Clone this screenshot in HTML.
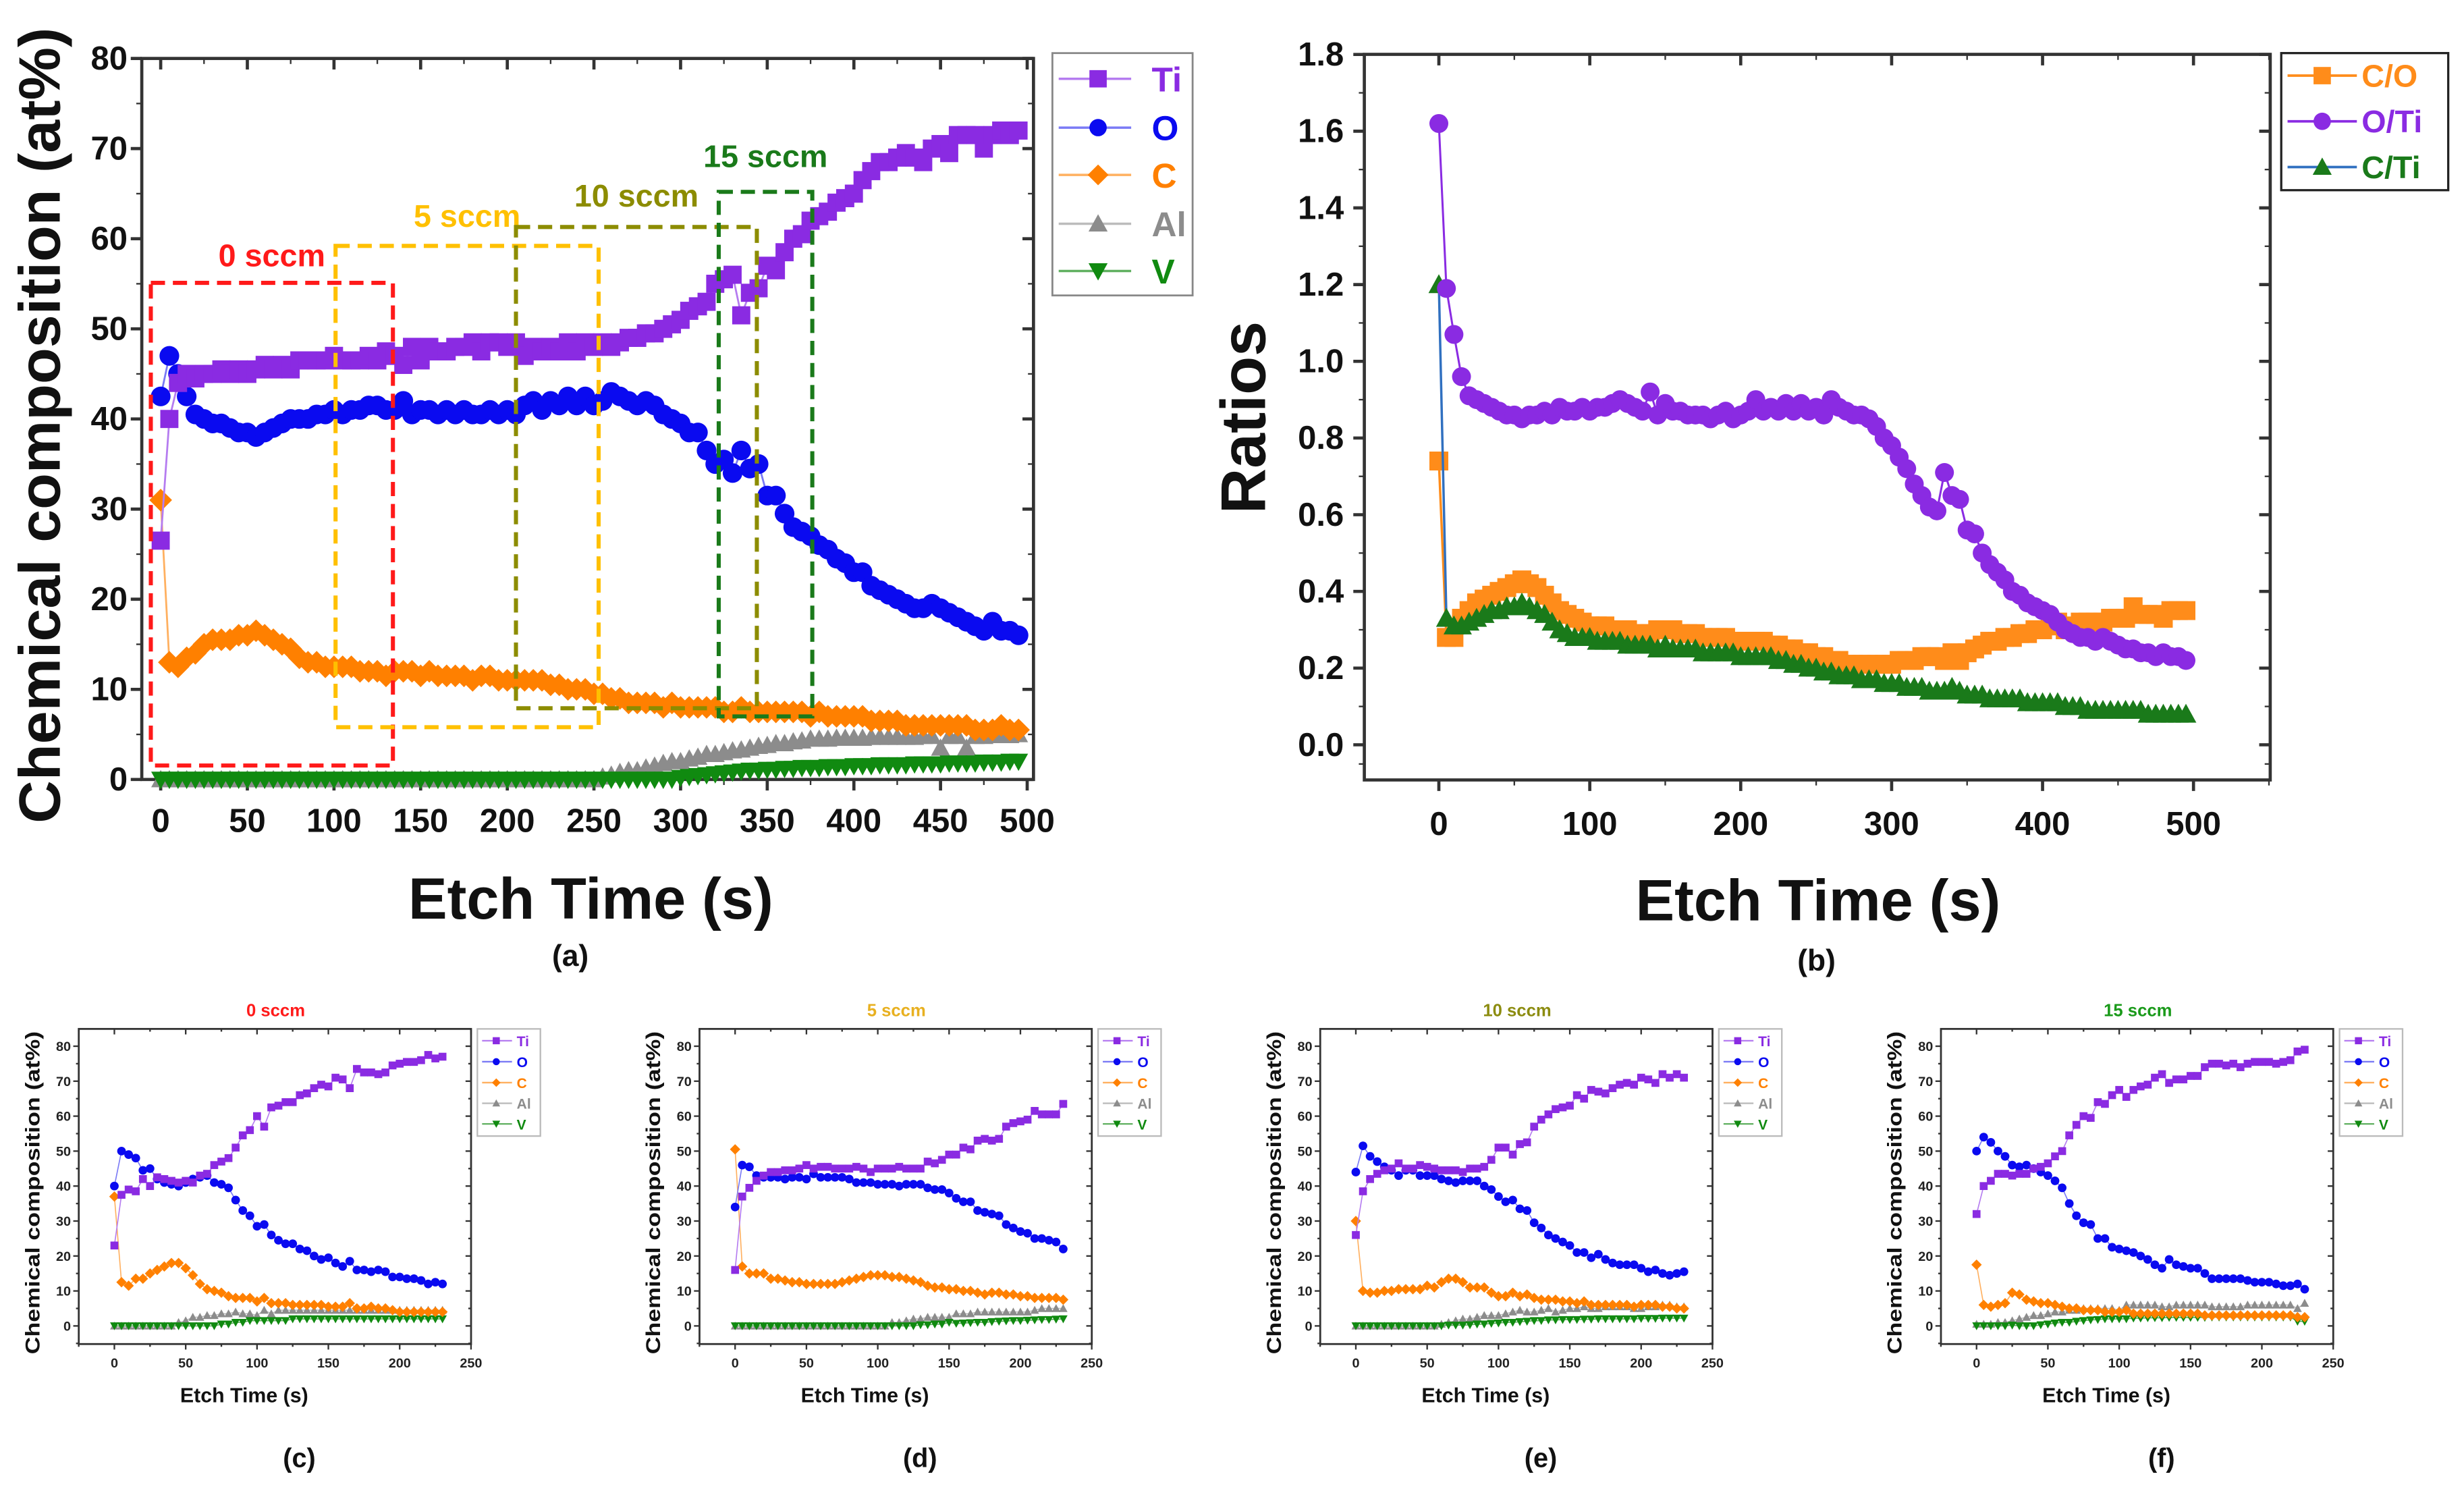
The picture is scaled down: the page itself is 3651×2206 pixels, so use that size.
<!DOCTYPE html>
<html><head><meta charset="utf-8"><style>
html,body{margin:0;padding:0;background:#fff;}
svg{display:block;font-family:"Liberation Sans",Arial,sans-serif;font-weight:bold;}
</style></head><body>
<svg id="fig" xmlns="http://www.w3.org/2000/svg" width="3651" height="2206" viewBox="0 0 1564 945" preserveAspectRatio="none"></svg>
<script>
// ---------- Panel (a) data ----------
const A_t=[0,5,10,15,20,25,30,35,40,45,50,55,60,65,70,75,80,85,90,95,100,105,110,115,120,125,130,135,140,145,150,155,160,165,170,175,180,185,190,195,200,205,210,215,220,225,230,235,240,245,250,255,260,265,270,275,280,285,290,295,300,305,310,315,320,325,330,335,340,345,350,355,360,365,370,375,380,385,390,395,400,405,410,415,420,425,430,435,440,445,450,455,460,465,470,475,480,485,490,495];
const A_Ti=[26.5,40,44,45,44.5,45,45,45.5,45,45.5,
45,45.5,46,45.5,46,45.5,46.5,46.5,46.5,46.5,
47,46.5,46.5,46.5,47,46.5,47.5,47,46,48,
46.5,48,47.5,47.5,48,48,48.5,47.5,48.5,48.5,
48,48.5,47,48,47.5,48,47.5,48.5,47.5,48.5,
48,48.5,48,48.5,49,49,49.5,49.5,50,50.5,
51,52,52.5,53,55,55.5,56,51.5,54,54.5,
57,56.5,58.5,60,60.5,62,62.5,63,64,64.5,
65,66.5,67.5,68.5,68.5,69,69.5,69,68.5,70,
70.5,69.5,71.5,71.5,71.5,70,71.5,72,71.5,72];
const A_O=[42.5,47,45,42.5,40.5,40,39.5,39.5,39,38.5,
38.5,38,38.5,39,39.5,40,40,40,40.5,40.5,
41,40.5,41,41,41.5,41.5,41,41,42,40.5,
41,41,40.5,41,40.5,41,40.5,40.5,41,40.5,
41,40.5,41.5,42,41,42,41.5,42.5,41.5,42.5,
41.5,42,43,42.5,42,41.5,42,41.5,40.5,40,
39.5,38.5,38.5,36.5,35,35.5,34,36.5,34.5,35,
31.5,31.5,29.5,28,27.5,27,26,25.5,24.5,24,
23,23,21.5,21,20.5,20,19.5,19,19,19.5,
19,18.5,18,17.5,17,16.5,17.5,16.5,16.5,16];
const A_C=[31,13,12.5,13.5,14,15,15.5,15.5,15.5,16,
16,16.5,16,15.5,15,14.5,13.5,13,13,12.5,
12.5,12.5,12.5,12,12,12,11.5,12,12,12,
11.5,12,11.5,11.5,11.5,11.5,11,11.5,11.5,11,
11,11,11,11,11,10.5,10.5,10,10,10,
9.5,9.5,9,9,8.5,8.5,8.5,8.5,8,8.5,
8,8,8,8,8,7.5,7.5,8,7.5,7.5,
7.5,7.5,7.5,7.5,7.5,7,7.5,7,7,7,
7,7,6.5,6.5,6.5,6.5,6,6,6,6,
6,6,6,6,5.5,5.5,5.5,6,5.5,5.5];
const A_Al=[0,0,0,0,0,0,0,0,0,0,
0,0,0,0,0,0,0,0,0,0,
0,0,0,0,0,0,0,0,0,0,
0,0,0,0,0,0,0,0,0,0,
0,0,0,0,0,0,0,0,0,0,
0,0.3,0.5,0.8,1,1,1.3,1.5,1.8,2,
2,2.3,2.5,2.8,2.8,3,3.2,3.3,3.5,3.7,
3.8,4,4,4.2,4.3,4.5,4.5,4.5,4.6,4.6,
4.6,4.6,4.7,4.7,4.7,4.7,4.7,4.7,4.8,4.8,
3.5,4.8,4.8,3.5,4.8,4.8,4.9,4.9,4.9,5];
const A_V=[0,0,0,0,0,0,0,0,0,0,
0,0,0,0,0,0,0,0,0,0,
0,0,0,0,0,0,0,0,0,0,
0,0,0,0,0,0,0,0,0,0,
0,0,0,0,0,0,0,0,0,0,
0,0,0,0,0,0,0,0,0,0,
0.2,0.3,0.4,0.5,0.6,0.7,0.8,0.9,1,1,
1.1,1.1,1.2,1.2,1.3,1.3,1.3,1.4,1.4,1.4,
1.5,1.5,1.5,1.6,1.6,1.6,1.6,1.7,1.7,1.7,
1.7,1.8,1.8,1.8,1.8,1.9,1.9,1.9,2,2];
const A_xticks=[0,50,100,150,200,250,300,350,400,450,500];
const A_yticks=[0,10,20,30,40,50,60,70,80];
const A_boxLabels=["0 sccm","5 sccm","10 sccm","15 sccm"];
const A_boxT0=[-5.7,100.9,205,322];
const A_boxT1=[134,252.7,344,376];
const A_boxY0=[55.1,59.2,61.3,65.2];
const A_boxY1=[1.55,5.8,7.9,7.0];

// ---------- Panel (b) data ----------
const B_t=A_t.slice();
const B_OTi=[1.62,1.19,1.07,0.96,0.91,0.9,0.89,0.88,0.87,0.86,
0.86,0.85,0.86,0.86,0.87,0.86,0.88,0.87,0.87,0.88,
0.87,0.88,0.88,0.89,0.9,0.89,0.88,0.87,0.92,0.86,
0.89,0.87,0.87,0.86,0.86,0.86,0.85,0.86,0.87,0.85,
0.86,0.87,0.9,0.87,0.88,0.87,0.89,0.87,0.89,0.87,
0.88,0.86,0.9,0.88,0.87,0.86,0.86,0.85,0.83,0.8,
0.78,0.75,0.72,0.68,0.65,0.62,0.61,0.71,0.65,0.64,
0.56,0.55,0.5,0.47,0.45,0.43,0.4,0.39,0.37,0.36,
0.35,0.34,0.32,0.3,0.29,0.28,0.28,0.27,0.28,0.27,
0.26,0.25,0.25,0.24,0.24,0.23,0.24,0.23,0.23,0.22];
const B_CO=[0.74,0.28,0.28,0.33,0.35,0.37,0.38,0.39,0.4,0.41,
0.42,0.43,0.42,0.41,0.39,0.37,0.35,0.34,0.33,0.32,
0.31,0.31,0.31,0.3,0.3,0.3,0.29,0.29,0.29,0.3,
0.3,0.3,0.29,0.29,0.29,0.28,0.28,0.28,0.28,0.27,
0.27,0.27,0.27,0.27,0.26,0.26,0.25,0.25,0.24,0.24,
0.23,0.23,0.22,0.22,0.21,0.21,0.21,0.21,0.21,0.21,
0.21,0.22,0.22,0.22,0.23,0.23,0.23,0.22,0.24,0.22,
0.24,0.25,0.26,0.27,0.27,0.28,0.28,0.29,0.29,0.3,
0.3,0.31,0.32,0.3,0.31,0.32,0.32,0.32,0.32,0.33,
0.33,0.33,0.36,0.34,0.34,0.34,0.33,0.35,0.35,0.35];
const B_CTi=[1.2,0.33,0.31,0.31,0.32,0.33,0.34,0.35,0.35,0.36,
0.36,0.37,0.36,0.35,0.34,0.32,0.3,0.29,0.28,0.28,
0.28,0.27,0.27,0.27,0.27,0.26,0.26,0.26,0.26,0.25,
0.26,0.25,0.25,0.25,0.25,0.24,0.24,0.24,0.24,0.24,
0.23,0.23,0.23,0.23,0.23,0.22,0.22,0.21,0.21,0.2,
0.2,0.19,0.19,0.18,0.18,0.18,0.17,0.17,0.17,0.16,
0.16,0.16,0.15,0.15,0.15,0.14,0.14,0.14,0.15,0.14,
0.13,0.13,0.13,0.12,0.12,0.12,0.12,0.12,0.11,0.11,
0.11,0.11,0.11,0.1,0.1,0.1,0.09,0.09,0.09,0.09,
0.09,0.09,0.09,0.09,0.08,0.08,0.08,0.08,0.08,0.08];
const B_xticks=[0,100,200,300,400,500];
const B_yticks=[0,0.2,0.4,0.6,0.8,1.0,1.2,1.4,1.6,1.8];

// ---------- Panels (c)-(f) data ----------
const S_t=[0,5,10,15,20,25,30,35,40,45,50,55,60,65,70,75,80,85,90,95,100,105,110,115,120,125,130,135,140,145,150,155,160,165,170,175,180,185,190,195,200,205,210,215,220,225,230];
const S_xticks=[0,50,100,150,200,250];
const S_yticks=[0,10,20,30,40,50,60,70,80];
const C_Ti=[23,37.5,39,38.5,42,40,42.5,42,41.5,41,41.5,41,43,43.5,46,47,48,51,54.5,56,60,57,62.5,63,64,64,66,66.5,68,69,68.5,71,70.5,68,73.5,72.5,72.5,72,72.5,74.5,75,75.5,75.5,76,77.5,76.5,77];
const C_O=[40,50,49,48,44.5,45,42,41,40.5,40,41,42,42.5,43,41,40.5,39.5,36,33,31.5,28.5,29,26,24.5,23.5,23.5,22,21.5,20,19,19.5,18,17,18.5,16,16,15.5,16,15.5,14,14,13.5,13.5,13,12,12.5,12];
const C_C=[37,12.5,11.5,13.5,13.5,15,16,17,18,18,16.5,14.5,12,10.5,10,9.5,8.5,8,8,8,7,8,6.5,6.5,6.5,6,6,6,6,6,5.5,5.5,5.5,6.5,5,5,5.5,5,5,4.5,4,4,4,4,4,4,4];
const C_Al=[0,0,0,0,0,0,0,0,0,1,1.5,2.5,2.5,3,3,3.5,3.5,4,3.5,3.5,3,4.5,3.5,4.5,4.5,4.5,4.5,4.5,4.5,4.5,4.5,4.5,4.5,4.5,4.5,4.5,4.5,4.5,4.5,4.5,4.5,4.5,4.5,4.5,4.5,4.5,4.5];
const C_V=[0,0,0,0,0,0,0,0,0,0,0,0,0,0,0,0.5,0.5,1,1,1.5,1.5,1.5,1.5,1.5,1.5,2,2,2,2,2,2,2,2,2,2,2,2,2,2,2,2,2,2,2,2,2,2];
const D_Ti=[16,37,39.5,41.5,43,44,44,44.5,44.5,45,46,45,45.5,45.5,45,45,45,45.5,45,44,45,45,45,45.5,45,45,45,47,46.5,47.5,49,49,51,50.5,53,53.5,53,53.5,57,58,58.5,59,61.5,60.5,60.5,60.5,63.5];
const D_O=[34,46,45.5,43,42.5,42.5,42.5,42,42.5,42.5,42,43.5,42.5,42.5,42.5,42.5,42,41,41,41,40.5,40.5,40.5,40,40.5,40.5,40.5,39.5,39,39,38,36.5,35.5,35.5,33,32.5,32,31.5,29,28,27,26.5,25,25,24.5,24,22];
const D_C=[50.5,17,15,15,15,13.5,13.5,13,12.5,12.5,12,12,12,12,12,12.5,13,13.5,14,14.5,14.5,14.5,14,14,13.5,13,12.5,11.5,11,11,10.5,10.5,10,10,9.5,9,9.5,9.5,9,9,8.5,8.5,8,8,8,8,7.5];
const D_Al=[0,0,0,0,0,0,0,0,0,0,0,0,0,0,0,0,0,0,0,0,0,0,1,1,1.5,2,2,2.5,2.5,2.5,2.5,3.5,3.5,3.5,4,4,4,4,4,4,4,4,4.5,5,5,5,5];
const D_V=[0,0,0,0,0,0,0,0,0,0,0,0,0,0,0,0,0,0,0,0,0,0,0,0,0,0,0.3,0.3,0.5,0.5,1,0.7,0.8,0.9,1,1,1.2,1.3,1.4,1.5,1.5,1.6,1.7,1.8,1.8,1.9,2];
const E_Ti=[26,38.5,42,43.5,44.5,45,46.5,45,45,46,45.5,45,44.5,44.5,44.5,44,45,45,45.5,47.5,51,51,49,52,52.5,57,59,60.5,62,62.5,63,66,65,67.5,67,66.5,68,69,69.5,69,71,70.5,69.5,72,71,72,71];
const E_O=[44,51.5,48.5,47,45.5,44.5,43,44.5,44.5,43,43,43,42,41.5,41,41.5,41.5,41.5,40,39,37,35.5,36,33.5,33,29.5,28,26,25,24,23,21,21,19.5,20.5,19,18,17.5,17.5,17.5,16.5,15.5,16,15,14.5,15,15.5];
const E_C=[30,10,9.5,9.5,10,10,10.5,10.5,10.5,10.5,11.5,11,12.5,13.5,13.5,12.5,11,11,11,9.5,8.5,8.5,9.5,8.5,9,8,7.5,7.5,7.5,7,7,6.5,7,6,6,6,6,6,6,5.5,6,6,6,5.5,5.5,5,5];
const E_Al=[0,0,0,0,0,0,0,0,0,0,0,0,0.5,1,1.5,2,2,2.5,3,3,3,3.5,4,4.5,4,4,4.5,5,4,4.5,5,5,5.5,5,5,5.5,5.5,5.5,5.5,5,5,5.5,5.5,6,6,5.5,5.5];
const E_V=[0,0,0,0,0,0,0,0,0,0,0,0,0,0.2,0.2,0.2,0.3,0.5,0.5,0.7,0.8,1,1,1.2,1.3,1.5,1.5,1.7,1.7,1.8,1.8,1.8,1.9,1.9,2,2,2,2,2,2,2.1,2.1,2.1,2.2,2.2,2.2,2.2];
const F_Ti=[32,40,41.5,43.5,43.5,43,43.5,43.5,45,45.5,46.5,48.5,50,54.5,57.5,60,59.5,64,63.5,66,67.5,65.5,67.5,68.5,69,71,72,69.5,70.5,70.5,71.5,71.5,74,75,75,74.5,75,74,75,75.5,75.5,75.5,75,75.5,76,78.5,79];
const F_O=[50,54,52.5,50,48.5,46,45.5,46,45,44,43,41.5,39.5,35,31.5,29.5,29,25,25,22.5,22,21.5,21,20,19,17.5,16.5,19,17.5,17,16.5,16.5,15,13.5,13.5,13.5,13.5,13.5,13,12.5,12.5,12.5,12,11.5,11.5,12,10.5];
const F_C=[17.5,6,5.5,6,6.5,9.5,9,7.5,7,6.5,6.5,6,5.5,5,5,4.5,4.5,4.5,4,4,4,4.5,3.5,3.5,3.5,3.5,3.5,3.5,3.5,3.5,3.5,3.5,3,3,3,3,3,3,3,3,3,3,3,3,3,2.5,2.5];
const F_Al=[0.5,0.5,0.5,1,1,1.5,2,2.5,3,3,3.5,4,4,4.5,4.5,5,5,5,5,5,4.5,6,6,6,6,6,5.5,5.5,6,6,6,6,6,5.5,5.5,5.5,5.5,5.5,6,6,6,6,6,6,6,5,6.5];
const F_V=[0,0,0,0,0,0.2,0,0,0,0.3,0.5,0.8,1,1,1.3,1.5,1.7,1.8,2,2,2,2,2.2,2.2,2.3,2.3,2.3,2.4,2.4,2.4,2.4,2.4,2.4,2.5,2.5,2.5,2.5,2.5,2.5,2.5,2.5,2.5,2.5,2.5,2.5,1.3,1.3];

// ---------- drawing helpers ----------
const NS="http://www.w3.org/2000/svg";
const fig=document.getElementById('fig');
function el(tag,attrs,parent){const e=document.createElementNS(NS,tag);for(const k in attrs)e.setAttribute(k,attrs[k]);(parent||fig).appendChild(e);return e;}
function txt(s,attrs,parent){const e=el('text',attrs,parent);e.textContent=s;return e;}
const COL={Ti:'#8a2be2',O:'#0a0af0',C:'#ff8000',Al:'#8c8c8c',V:'#108a10'};
const LCOL={Ti:'#b57cf0',O:'#7a7af5',C:'#ffb060',Al:'#bcbcbc',V:'#60b060'};
function marker(g,shape,cx,cy,s,color){
  let m;
  if(shape==='sq') m=el('rect',{x:cx-s/2,y:cy-s/2,width:s,height:s,fill:color},g);
  else if(shape==='ci') m=el('circle',{cx:cx,cy:cy,r:s/2,fill:color},g);
  else if(shape==='di') m=el('polygon',{points:`${cx},${cy-s*0.6} ${cx+s*0.6},${cy} ${cx},${cy+s*0.6} ${cx-s*0.6},${cy}`,fill:color},g);
  else if(shape==='tu') m=el('polygon',{points:`${cx},${cy-s*0.55} ${cx+s*0.55},${cy+s*0.45} ${cx-s*0.55},${cy+s*0.45}`,fill:color},g);
  else m=el('polygon',{points:`${cx},${cy+s*0.55} ${cx+s*0.55},${cy-s*0.45} ${cx-s*0.55},${cy-s*0.45}`,fill:color},g);
  return m;
}
function frame(L,T,R,B,xs,ys,xt,yt,xminor,yminor,tlen,g){
  el('rect',{x:L,y:T,width:R-L,height:B-T,fill:'none',stroke:'#333',"stroke-width":tlen>4?2:1.2},g);
  xt.forEach(v=>{const x=xs(v);el('line',{x1:x,y1:B,x2:x,y2:B+tlen,stroke:'#333','stroke-width':tlen>4?2:1},g);el('line',{x1:x,y1:T,x2:x,y2:T+tlen,stroke:'#333','stroke-width':tlen>4?2:1},g);});
  xminor.forEach(v=>{const x=xs(v);el('line',{x1:x,y1:B,x2:x,y2:B+tlen/2,stroke:'#333','stroke-width':1},g);el('line',{x1:x,y1:T,x2:x,y2:T+tlen/2,stroke:'#333','stroke-width':1},g);});
  yt.forEach(v=>{const y=ys(v);el('line',{x1:L-tlen,y1:y,x2:L,y2:y,stroke:'#333','stroke-width':tlen>4?2:1},g);el('line',{x1:R-tlen,y1:y,x2:R,y2:y,stroke:'#333','stroke-width':tlen>4?2:1},g);});
  yminor.forEach(v=>{const y=ys(v);el('line',{x1:L-tlen/2,y1:y,x2:L,y2:y,stroke:'#333','stroke-width':1},g);el('line',{x1:R-tlen/2,y1:y,x2:R,y2:y,stroke:'#333','stroke-width':1},g);});
}
function series(g,name,t,vals,xs,ys,shape,size,col,lcol,lw){
  const pts=t.map((v,i)=>xs(v)+','+ys(vals[i])).join(' ');
  const line=el('polyline',{points:pts,fill:'none',stroke:lcol,'stroke-width':lw},g);
  
  
  t.forEach((v,i)=>{
    const m=marker(g,shape,xs(v),ys(vals[i]),size,col);
    
    
  });
}

// ---------- Panel (a) ----------
(function(){
  const g=el('g',{});
  
  
  const L=90,R=656,T=37.1,B=494.7;
  const xs=v=>102+v*1.1, ys=v=>B-(v/80)*(B-T);
  frame(L,T,R,B,xs,ys,A_xticks,A_yticks,[25,75,125,175,225,275,325,375,425,475],[5,15,25,35,45,55,65,75],7,g);
  A_xticks.forEach(v=>{const e=txt(String(v),{x:xs(v),y:528,'font-size':21,'text-anchor':'middle',fill:'#111'},g);});
  A_yticks.forEach(v=>{const e=txt(String(v),{x:L-9,y:ys(v)+7,'font-size':21,'text-anchor':'end',fill:'#111'},g);});
  const yl=txt('Chemical composition (at%)',{x:0,y:0,'font-size':37,'text-anchor':'middle',transform:'translate(38,270) rotate(-90)',fill:'#111',textLength:505,lengthAdjust:'spacingAndGlyphs'},g);
  
  
  const xl=txt('Etch Time (s)',{x:375,y:583,'font-size':37,'text-anchor':'middle',fill:'#111'},g);
  
  
  series(g,'al',A_t,A_Al,xs,ys,'tu',11,COL.Al,LCOL.Al,1);
  series(g,'v',A_t,A_V,xs,ys,'td',11,COL.V,LCOL.V,1);
  series(g,'c',A_t,A_C,xs,ys,'di',12,COL.C,LCOL.C,1.2);
  series(g,'o',A_t,A_O,xs,ys,'ci',12.5,COL.O,LCOL.O,1.2);
  series(g,'ti',A_t,A_Ti,xs,ys,'sq',11.5,COL.Ti,LCOL.Ti,1.2);
  const bcol=['#ff1a1a','#ffc000','#8c8c00','#1a7a1a'];
  const lblY=[162,137,124,99];
  A_boxLabels.forEach((s,i)=>{
    const x0=xs(A_boxT0[i]),x1=xs(A_boxT1[i]),y0=ys(A_boxY0[i]),y1=ys(A_boxY1[i]);
    const r=el('rect',{x:x0,y:y0,width:x1-x0,height:y1-y0,fill:'none',stroke:bcol[i],'stroke-width':2.6,'stroke-dasharray':'9,5'},g);
    
    
    const t=txt(s,{x:(x0+x1)/2,y:lblY[i]+7,'font-size':20,'text-anchor':'middle',fill:bcol[i]},g);
    
    
  });
  const lg=el('g',{},g);
  
  
  el('rect',{x:668,y:33.7,width:89,height:153.8,fill:'#fff',stroke:'#888','stroke-width':1.2},lg);
  const names=['Ti','O','C','Al','V'],shapes=['sq','ci','di','tu','td'],ry=[50,81,111,142,172];
  names.forEach((n,i)=>{
    const e=el('g',{},lg);
    
    
    el('line',{x1:672,y1:ry[i],x2:718,y2:ry[i],stroke:LCOL[n],'stroke-width':1.5},e);
    marker(e,shapes[i],697,ry[i],11,COL[n]);
    txt(n,{x:731,y:ry[i]+8,'font-size':22,fill:COL[n]},e);
  });
  const pl=txt('(a)',{x:362,y:613,'font-size':19,'text-anchor':'middle',fill:'#111'});
  
  
})();

// ---------- Panel (b) ----------
(function(){
  const g=el('g',{});
  
  
  const L=866,R=1441,T=34.5,B=495;
  const xs=v=>913.3+v*0.958, ys=v=>472.7-v*243.4;
  frame(L,T,R,B,xs,ys,B_xticks,B_yticks,[-50,50,150,250,350,450,550].filter(v=>xs(v)>=L&&xs(v)<=R),[0.1,0.3,0.5,0.7,0.9,1.1,1.3,1.5,1.7,-0.05].filter(v=>ys(v)<=B),7,g);
  B_xticks.forEach(v=>{const e=txt(String(v),{x:xs(v),y:530,'font-size':21,'text-anchor':'middle',fill:'#111'},g);});
  B_yticks.forEach(v=>{const e=txt(v.toFixed(1),{x:L-13,y:ys(v)+7,'font-size':21,'text-anchor':'end',fill:'#111'},g);});
  const yl=txt('Ratios',{x:0,y:0,'font-size':40,'text-anchor':'middle',transform:'translate(803,265) rotate(-90)',fill:'#111'},g);
  
  
  const xl=txt('Etch Time (s)',{x:1154,y:584,'font-size':37,'text-anchor':'middle',fill:'#111'},g);
  
  
  series(g,'c-o',B_t,B_CO,xs,ys,'sq',12,'#ff8c1a','#ff8c1a',1.5);
  series(g,'c-ti',B_t,B_CTi,xs,ys,'tu',12,'#1a7a1a','#3070c0',1.5);
  series(g,'o-ti',B_t,B_OTi,xs,ys,'ci',12,'#8a2be2','#8a2be2',1.3);
  const lg=el('g',{},g);
  
  
  el('rect',{x:1448,y:33.7,width:106,height:87,fill:'#fff',stroke:'#222','stroke-width':1.4},lg);
  const names=['C/O','O/Ti','C/Ti'],cols=['#ff8c1a','#8a2be2','#1a7a1a'],lc=['#ff8c1a','#8a2be2','#3070c0'],shapes=['sq','ci','tu'],ry=[48,77,106];
  names.forEach((n,i)=>{
    const e=el('g',{},lg);
    
    
    el('line',{x1:1452,y1:ry[i],x2:1496,y2:ry[i],stroke:lc[i],'stroke-width':1.6},e);
    marker(e,shapes[i],1474,ry[i],11,cols[i]);
    txt(n,{x:1499,y:ry[i]+7,'font-size':20,fill:cols[i]},e);
  });
  const pl=txt('(b)',{x:1153,y:616,'font-size':19,'text-anchor':'middle',fill:'#111'});
  
  
})();

// ---------- Panels (c)-(f) ----------
const SMALL=[
  {id:'c',left:50,title:'0 sccm',tc:'#ff1a1a',Ti:C_Ti,O:C_O,C:C_C,Al:C_Al,V:C_V},
  {id:'d',left:444,title:'5 sccm',tc:'#e8b020',Ti:D_Ti,O:D_O,C:D_C,Al:D_Al,V:D_V},
  {id:'e',left:838,title:'10 sccm',tc:'#8c8c10',Ti:E_Ti,O:E_O,C:E_C,Al:E_Al,V:E_V},
  {id:'f',left:1232,title:'15 sccm',tc:'#1a9a1a',Ti:F_Ti,O:F_O,C:F_C,Al:F_Al,V:F_V}
];
SMALL.forEach(p=>{
  const g=el('g',{});
  
  
  const L=p.left,R=p.left+249,T=653,B=853;
  const xs=v=>L+22.6+v*0.9055, ys=v=>841.5-v*2.219;
  frame(L,T,R,B,xs,ys,S_xticks,S_yticks,[-25,25,75,125,175,225],[-5,5,15,25,35,45,55,65,75,85].filter(v=>ys(v)>=T&&ys(v)<=B),3.5,g);
  S_xticks.forEach(v=>{const e=txt(String(v),{x:xs(v),y:868,'font-size':8.5,'text-anchor':'middle',fill:'#222'},g);});
  S_yticks.forEach(v=>{const e=txt(String(v),{x:L-5,y:ys(v)+3,'font-size':8.5,'text-anchor':'end',fill:'#222'},g);});
  const yl=txt('Chemical composition (at%)',{x:0,y:0,'font-size':12.5,'text-anchor':'middle',transform:`translate(${L-25},757) rotate(-90)`,fill:'#111',textLength:205,lengthAdjust:'spacingAndGlyphs'},g);
  
  
  const xl=txt('Etch Time (s)',{x:L+105,y:890,'font-size':13,'text-anchor':'middle',fill:'#111'},g);
  
  
  const tt=txt(p.title,{x:L+125,y:645,'font-size':11,'text-anchor':'middle',fill:p.tc},g);
  
  
  series(g,'al',S_t,p.Al,xs,ys,'tu',5,COL.Al,LCOL.Al,0.7);
  series(g,'v',S_t,p.V,xs,ys,'td',5,COL.V,LCOL.V,0.7);
  series(g,'c',S_t,p.C,xs,ys,'di',5.5,COL.C,LCOL.C,0.7);
  series(g,'o',S_t,p.O,xs,ys,'ci',5.5,COL.O,LCOL.O,0.7);
  series(g,'ti',S_t,p.Ti,xs,ys,'sq',5,COL.Ti,LCOL.Ti,0.7);
  const lg=el('g',{},g);
  
  
  el('rect',{x:R+4,y:653,width:40,height:68,fill:'#fff',stroke:'#bbb','stroke-width':1},lg);
  const names=['Ti','O','C','Al','V'],shapes=['sq','ci','di','tu','td'],ry=[660.5,673.8,687.1,700.2,713.3];
  names.forEach((n,i)=>{
    const e=el('g',{},lg);
    
    
    el('line',{x1:R+7,y1:ry[i],x2:R+26,y2:ry[i],stroke:LCOL[n],'stroke-width':1},e);
    marker(e,shapes[i],R+16,ry[i],4.5,COL[n]);
    txt(n,{x:R+29,y:ry[i]+3.5,'font-size':9,fill:COL[n]},e);
  });
  const pl=txt('('+p.id+')',{x:L+140,y:931,'font-size':17,'text-anchor':'middle',fill:'#111'});
  
  
});
</script>
</body></html>
